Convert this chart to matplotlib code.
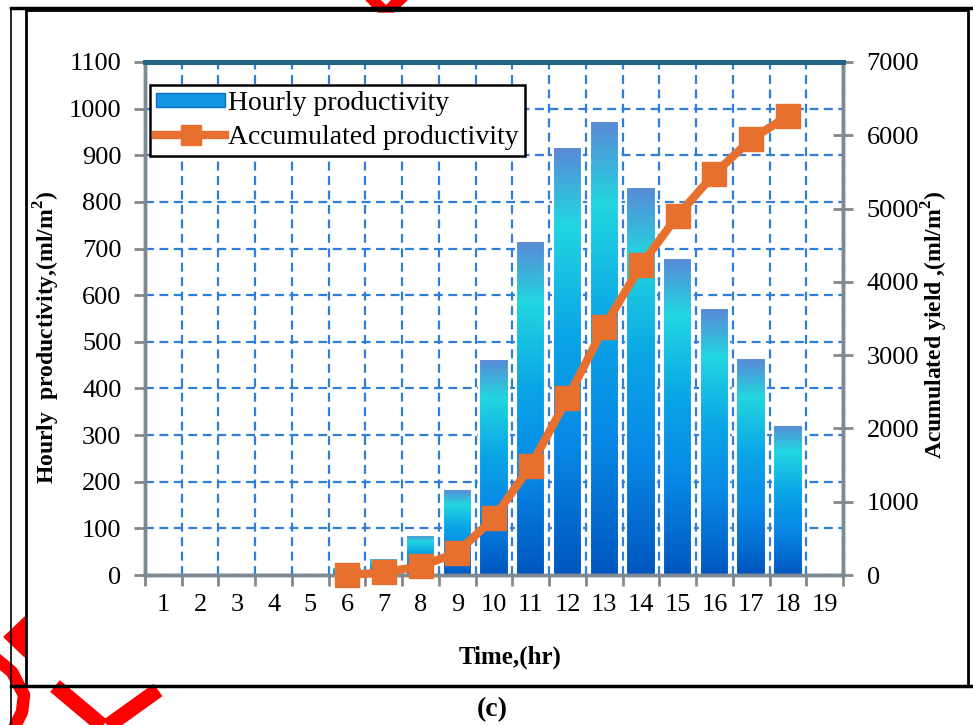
import numpy as np
import matplotlib
matplotlib.use("Agg")
import matplotlib.pyplot as plt
from matplotlib.colors import LinearSegmentedColormap
from matplotlib.lines import Line2D
from matplotlib.patches import Patch, Rectangle

plt.rcParams['font.family'] = ['Liberation Serif', 'DejaVu Serif']
plt.rcParams['mathtext.fontset'] = 'custom'
plt.rcParams['mathtext.rm'] = 'Liberation Serif'
plt.rcParams['mathtext.bf'] = 'Liberation Serif:bold'

# data
hours = list(range(1, 20))
bar_hours = [6, 7, 8, 9, 10, 11, 12, 13, 14, 15, 16, 17, 18]
hourly = [17, 36, 86, 184, 463, 716, 918, 973, 832, 680, 572, 465, 322]
accumulated = [0, 35, 120, 305, 780, 1490, 2410, 3385, 4225, 4905, 5475, 5945, 6265]

W, H = 973, 725
fig = plt.figure(figsize=(W / 100, H / 100), dpi=100)

def px(x, y):
    return x / W, 1 - y / H

l, t = px(145, 62)
r, b = px(843, 575)
ax = fig.add_axes([l, b, r - l, t - b])
ax2 = ax.twinx()

grid_col = '#2f7fd8'
ax.set_ylim(0, 1100)
ax2.set_ylim(0, 7000)
ax.set_yticks(np.arange(0, 1101, 100))
ax2.set_yticks(np.arange(0, 7001, 1000))
ax.set_xticks(np.arange(0.5, 19.6, 1))
ax.set_xticklabels([])
ax.set_xticks(hours, minor=True)
ax.set_xticklabels([str(h) for h in hours], minor=True)
ax.set_axisbelow(True)
ax.grid(True, color=grid_col, ls=(0, (4, 2.5)), lw=1.6)

tick_col = '#878787'
ax.tick_params(axis='x', which='major', direction='out', length=8, width=2, color=tick_col)
ax.tick_params(axis='x', which='minor', length=0, pad=14, labelsize=19)
ax.tick_params(axis='y', direction='out', length=8, width=2, color=tick_col, pad=9, labelsize=19)
ax2.tick_params(axis='y', direction='inout', length=14, width=2, color=tick_col, pad=10, labelsize=19)

for a in (ax, ax2):
    for s in ('left', 'bottom', 'right'):
        a.spines[s].set_color('#7c8a93')
        a.spines[s].set_linewidth(2.5)
    a.spines['top'].set_color('#1f6585')
    a.spines['top'].set_linewidth(3.5)

# gradient bars
cmap = LinearSegmentedColormap.from_list('bar', [
    (0.0, '#0056bf'), (0.3, '#0888e6'), (0.55, '#0aa4e6'),
    (0.82, '#22d6e0'), (1.0, '#5a88d6')])
grad = np.linspace(0, 1, 256).reshape(-1, 1)
bars = ax.bar(bar_hours, hourly, width=0.8, color='none', edgecolor='white', lw=1.5, zorder=3)
for rect in bars:
    x0, y0 = rect.get_x(), rect.get_y()
    w, h = rect.get_width(), rect.get_height()
    im = ax.imshow(grad, cmap=cmap, origin='lower', aspect='auto',
                   extent=[x0, x0 + w, y0, y0 + h], zorder=2.5)
    im.set_clip_path(rect)
ax.set_xlim(0.5, 19.5)
ax.set_ylim(0, 1100)

orange = '#e8702f'
ax2.plot(bar_hours, accumulated, color=orange, lw=6, marker='s', ms=17,
         mec=orange, mfc=orange, zorder=4, clip_on=False)

handles = [Patch(facecolor='#1496e2', edgecolor='#0a70c8'),
           Line2D([], [], color=orange, lw=6, marker='s', ms=14)]
leg = ax2.legend(handles, ['Hourly productivity', 'Accumulated productivity'],
                 loc='upper left', bbox_to_anchor=(0.007, 0.955), fontsize=20,
                 fancybox=False, framealpha=1, edgecolor='black', borderpad=0.22,
                 handlelength=2.5, handleheight=0.4, handletextpad=0.1,
                 labelspacing=0.3, borderaxespad=0)
leg.get_frame().set_linewidth(1.8)

fig.text(*px(47, 337), 'Hourly  productivity,(ml/m$^{\\mathbf{2}}$)', rotation=90,
         ha='center', va='center', fontsize=17, fontweight='bold')
fig.text(*px(935, 325), 'Acumulated yield ,(ml/m$^{\\mathbf{2}}$)', rotation=90,
         ha='center', va='center', fontsize=17, fontweight='bold')
fig.text(*px(510, 657), 'Time,(hr)', ha='center', va='center', fontsize=18, fontweight='bold')
fig.text(*px(492, 710), '(c)', ha='center', va='center', fontsize=20, fontweight='bold')

# outer frames
x0, y0 = px(26, 686)
x1, y1 = px(968, 10)
fig.add_artist(Rectangle((x0, y0), x1 - x0, y1 - y0, transform=fig.transFigure,
                         fill=False, ec='black', lw=2))
for xs, ys, lw in [([11, 11], [8, 725], 1.2), ([11, 973], [8, 8], 2.5), ([11, 973], [686, 686], 2.5)]:
    fig.add_artist(Line2D([x / W for x in xs], [1 - y / H for y in ys],
                          transform=fig.transFigure, color='black', lw=lw))

# red marks along the edges
red = '#ff0000'
fig.add_artist(plt.Polygon([px(366, 0), px(380, 0), px(386, 6), px(392, 0), px(407, 0),
                            px(394, 12), px(378, 12)], closed=True,
                           transform=fig.transFigure, color=red, zorder=0))
fig.add_artist(Line2D([55 / W, 105 / W, 158 / W], [1 - 686 / H, 1 - 728 / H, 1 - 690 / H],
                      transform=fig.transFigure, color=red, lw=11, zorder=0,
                      solid_capstyle='butt', solid_joinstyle='miter'))
fig.add_artist(plt.Polygon([px(4, 637), px(25, 617), px(25, 657)], closed=True,
                           transform=fig.transFigure, color=red, zorder=0))
fig.add_artist(Line2D([0, 12 / W, 24 / W, 22 / W, 14 / W],
                      [1 - 662 / H, 1 - 672 / H, 1 - 695 / H, 1 - 712 / H, 1 - 728 / H],
                      transform=fig.transFigure, color=red, lw=9, zorder=0))

fig.savefig('out.png', dpi=100)
